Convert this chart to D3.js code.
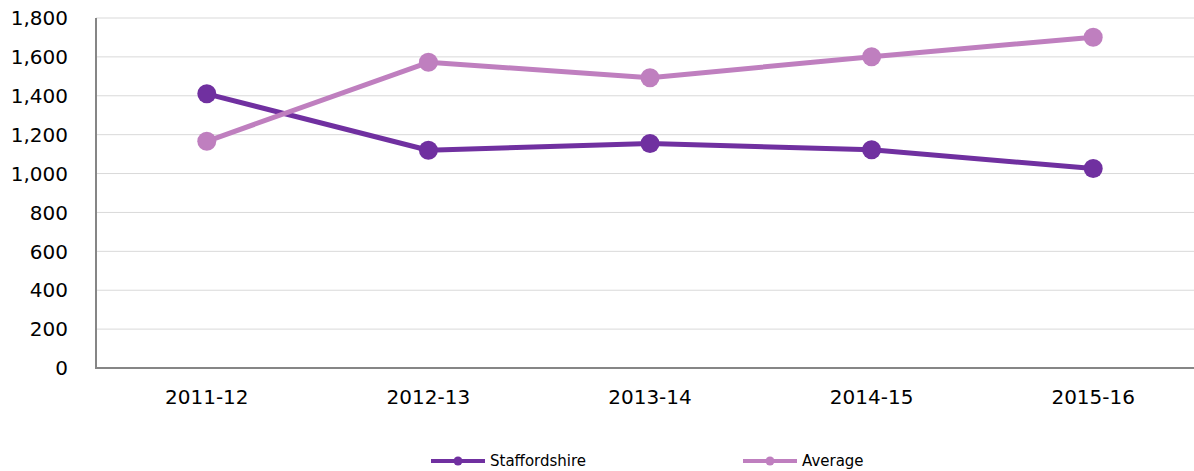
<!DOCTYPE html>
<html>
<head>
<meta charset="utf-8">
<script src="https://cdn.jsdelivr.net/npm/d3@7"></script>
<style>
  html, body { margin: 0; padding: 0; background: #fff; }
  svg { display: block; font-family: "DejaVu Sans", Verdana, sans-serif; }
</style>
</head>
<body>
<svg id="chart" width="1194" height="471"></svg>
<script>
// Data
const years = ['2011-12', '2012-13', '2013-14', '2014-15', '2015-16'];
const staffordshire = [1410, 1120, 1155, 1122, 1026];
const average = [1166, 1572, 1493, 1601, 1701];
const yTicks = [0, 200, 400, 600, 800, 1000, 1200, 1400, 1600, 1800];

const series = [
    { name: 'Staffordshire', values: staffordshire, color: '#7030a0' },
    { name: 'Average', values: average, color: '#bf7fbf' }
];

const svg = d3.select('#chart');
const W = 1194;
const plot = { left: 96, right: 1204, top: 18, bottom: 368 };

const x = d3.scaleBand().domain(years).range([plot.left, plot.right]);
const y = d3.scaleLinear().domain([0, 1800]).range([plot.bottom, plot.top]);

// Gridlines
svg.append('g')
    .selectAll('line')
    .data(yTicks.filter(d => d > 0))
    .join('line')
    .attr('x1', plot.left).attr('x2', W)
    .attr('y1', d => y(d)).attr('y2', d => y(d))
    .attr('stroke', '#d9d9d9').attr('stroke-width', 1);

// Y axis labels
svg.append('g')
    .selectAll('text')
    .data(yTicks)
    .join('text')
    .attr('x', 68)
    .attr('y', d => y(d))
    .attr('dy', '0.36em')
    .attr('text-anchor', 'end')
    .attr('font-size', 20)
    .attr('fill', '#000')
    .text(d => d3.format(',')(d));

// Axis lines
svg.append('line')
    .attr('x1', plot.left).attr('x2', plot.left)
    .attr('y1', plot.top).attr('y2', plot.bottom)
    .attr('stroke', '#868686').attr('stroke-width', 2);
svg.append('line')
    .attr('x1', plot.left - 1).attr('x2', W)
    .attr('y1', plot.bottom).attr('y2', plot.bottom)
    .attr('stroke', '#868686').attr('stroke-width', 2);

// X axis labels
svg.append('g')
    .selectAll('text')
    .data(years)
    .join('text')
    .attr('x', d => x(d) + x.bandwidth() / 2)
    .attr('y', 404)
    .attr('text-anchor', 'middle')
    .attr('font-size', 20)
    .attr('fill', '#000')
    .text(d => d);

const cx = d => x(d) + x.bandwidth() / 2;
const line = d3.line().x((v, i) => cx(years[i])).y(v => y(v));

// Lines + markers
for (const s of series) {
    const g = svg.append('g');
    g.append('path')
        .datum(s.values)
        .attr('d', line)
        .attr('fill', 'none')
        .attr('stroke', s.color)
        .attr('stroke-width', 5)
        .attr('stroke-linejoin', 'round');
    g.selectAll('circle')
        .data(s.values)
        .join('circle')
        .attr('cx', (v, i) => cx(years[i]))
        .attr('cy', v => y(v))
        .attr('r', 9.5)
        .attr('fill', s.color);
}

// Legend
const legendX = [431, 743];
series.forEach((s, i) => {
    const g = svg.append('g').attr('transform', `translate(${legendX[i]},461)`);
    g.append('line')
        .attr('x1', 0).attr('x2', 54)
        .attr('stroke', s.color).attr('stroke-width', 4);
    g.append('circle').attr('cx', 27).attr('r', 4.5).attr('fill', s.color);
    g.append('text')
        .attr('x', 59).attr('dy', '0.35em')
        .attr('font-size', 15)
        .attr('fill', '#000')
        .text(s.name);
});
</script>
</body>
</html>
